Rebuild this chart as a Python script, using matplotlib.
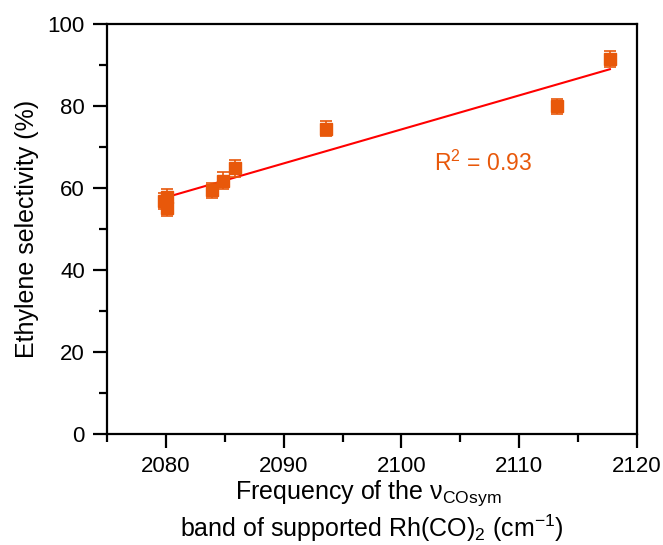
import numpy as np
import matplotlib
matplotlib.use("Agg")
import matplotlib.pyplot as plt

plt.rcParams['font.family'] = ['Liberation Sans', 'DejaVu Sans']
plt.rcParams['mathtext.fontset'] = 'custom'
plt.rcParams['mathtext.rm'] = 'Liberation Sans'
plt.rcParams['mathtext.it'] = 'Liberation Sans'
plt.rcParams['mathtext.default'] = 'regular'

# Data
frequency = [2079.8, 2080.1, 2080.1, 2083.9, 2084.85, 2085.9, 2093.6, 2113.2, 2117.7]
selectivity = [56.8, 57.8, 55.1, 59.4, 61.8, 64.8, 74.5, 79.9, 91.5]
error = [2.0, 2.0, 2.0, 1.9, 2.0, 2.0, 1.9, 1.9, 1.9]
r2_text = "R$^{2}$ = 0.93"
x_ticks = [2080, 2090, 2100, 2110, 2120]
y_ticks = [0, 20, 40, 60, 80, 100]

orange = '#E8580A'

fig = plt.figure(figsize=(6.63, 5.45), dpi=100)
ax = fig.add_axes([107/663, 1-434/545, (637-107)/663, (434-24)/545])

x = np.array(frequency)
y = np.array(selectivity)
slope, intercept = np.polyfit(x, y, 1)
xf = np.array([x.min(), x.max()])
ax.plot(xf, slope*xf + intercept, color='#FF0000', lw=1.5, zorder=2)

ax.errorbar(x, y, yerr=error, fmt='s', ms=8, color=orange, ecolor=orange,
            elinewidth=1.2, capsize=4.5, capthick=1.2, zorder=3)

ax.text(2102.8, 66, r2_text, color=orange, fontsize=16.5, ha='left', va='center')

ax.set_xlim(2075, 2120)
ax.set_ylim(0, 100)
ax.set_xticks(x_ticks)
ax.set_yticks(y_ticks)
ax.set_xticks(np.arange(2075, 2121, 5), minor=True)
ax.set_yticks(np.arange(0, 101, 10), minor=True)

for s in ax.spines.values():
    s.set_linewidth(1.6)
ax.tick_params(which='both', direction='out', top=False, right=False, width=1.6, labelsize=16)
ax.tick_params(which='major', length=10)
ax.tick_params(which='minor', length=6)
ax.tick_params(axis='y', which='major', pad=6)
ax.tick_params(axis='x', which='major', pad=5.5)

ax.set_ylabel('Ethylene selectivity (%)', fontsize=18, labelpad=6)

cx = (107 + 637) / 2 / 663
fig.text(cx - 4/663, 1-499/545, r'Frequency of the $\nu_{COsym}$', fontsize=18, ha='center', va='baseline')
fig.text(cx, 1-537/545, r'band of supported Rh(CO)$_{2}$ (cm$^{-1}$)', fontsize=18, ha='center', va='baseline')

fig.savefig('out.png', dpi=100)
